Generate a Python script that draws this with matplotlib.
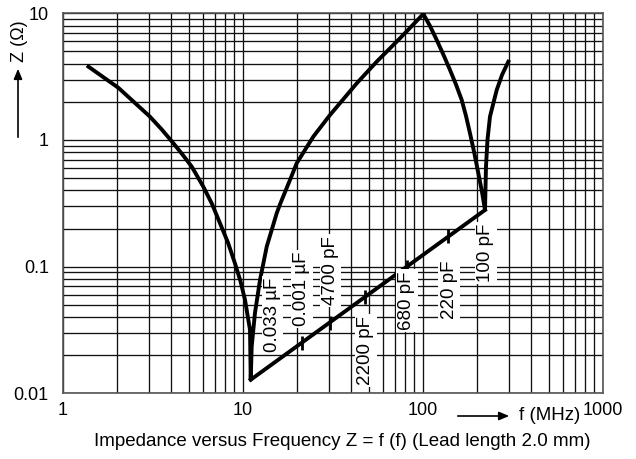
import numpy as np
import matplotlib
matplotlib.use("Agg")
import matplotlib.pyplot as plt
from matplotlib.patches import FancyArrowPatch
from matplotlib.ticker import LogLocator, NullFormatter

plt.rcParams['font.family'] = ['Liberation Sans', 'DejaVu Sans']

# 0.033 uF curve (capacitive branch, dip, inductive branch up to the peak)
f_033 = [1.39, 2.04, 2.52, 3.05, 3.56, 4.12, 4.63, 5.21, 6.04, 6.75, 7.48, 8.28,
         9.06, 9.72, 10.3, 10.98, 11.08,
         11.22, 11.7, 12.48, 13.6, 15.45, 16.11, 18.31, 19.95, 24.67, 30.55,
         43.0, 55.5, 74.8, 100.8]
z_033 = [3.79, 2.58, 1.96, 1.53, 1.205, 0.942, 0.767, 0.616, 0.428, 0.313, 0.220, 0.155,
         0.106, 0.0767, 0.0546, 0.0317, 0.0128,
         0.0234, 0.0431, 0.0785, 0.144, 0.264, 0.31, 0.483, 0.655, 1.062, 1.575,
         2.80, 4.15, 6.35, 9.87]

# 100 pF curve
f_100 = [100.8, 109.8, 119.6, 130.2, 141.8, 153.1, 164.7, 174.0, 183.1, 193.5,
         203.7, 213.5, 221.9, 224.7, 229.0, 236.5, 257.7, 275.8, 299.0]
z_100 = [9.87, 7.94, 6.16, 4.73, 3.57, 2.74, 2.07, 1.547, 1.13, 0.79,
         0.546, 0.389, 0.28, 0.616, 1.0, 1.53, 2.48, 3.26, 4.15]

# locus of the resonance points
res_f = [11.08, 221.9]
res_z = [0.0128, 0.28]

# resonance marks of the other capacitors
mark_caps = ['0.001 µF', '4700 pF', '2200 pF', '680 pF', '220 pF']
mark_f = [21.3, 30.5, 47.8, 81.5, 138.8]
mark_z = [0.025, 0.036, 0.058, 0.10, 0.173]

labels = ['0.033 µF', '0.001 µF', '4700 pF', '2200 pF', '680 pF', '220 pF', '100 pF']

fig = plt.figure(figsize=(6.36, 4.59), dpi=100)
W, H = 636, 459
ax = fig.add_axes([62.7 / W, 1 - 393.3 / H, 540 / W, 380 / H])
ax.set_xscale('log')
ax.set_yscale('log')
ax.set_xlim(1, 1000)
ax.set_ylim(0.01, 10)

ax.xaxis.set_minor_locator(LogLocator(subs=np.arange(2, 10)))
ax.yaxis.set_minor_locator(LogLocator(subs=np.arange(2, 10)))
ax.xaxis.set_minor_formatter(NullFormatter())
ax.yaxis.set_minor_formatter(NullFormatter())
ax.grid(which='both', color='#111111', lw=0.95)
ax.set_axisbelow(True)
for s in ax.spines.values():
    s.set_color('#555555')
    s.set_linewidth(1.2)

ax.set_xticks([1, 10, 100, 1000], ['1', '10', '100', '1000'])
ax.set_yticks([0.01, 0.1, 1, 10], ['0.01', '0.1', '1', '10'])
ax.tick_params(which='both', length=0, labelsize=13)
ax.tick_params(axis='x', pad=6)
ax.tick_params(axis='y', pad=10)

ax.plot(f_033, z_033, color='black', lw=2.8, zorder=3)
ax.plot(f_100, z_100, color='black', lw=2.8, zorder=3)
ax.plot(res_f, res_z, color='black', lw=2.8, zorder=3)
ax.plot(mark_f, mark_z, ls='none', marker='|', ms=10, mew=2, color='black', zorder=3)

# label positions in data coordinates
lab_pos = [(14.7, 0.0416), (21.35, 0.0667), (30.9, 0.0925), (48.4, 0.0216),
           (81.8, 0.054), (140, 0.0655), (224.7, 0.128)]
for txt, (x, y) in zip(labels, lab_pos):
    ax.text(x, y, txt, rotation=90, ha='center', va='center', fontsize=13.5,
            bbox=dict(facecolor='white', edgecolor='none', pad=1.5), zorder=4)

# axis titles with arrows
fig.text(19 / W, 1 - 41 / H, 'Z (Ω)', rotation=90, ha='center', va='center', fontsize=13)
fig.patches.append(FancyArrowPatch(
    (18 / W, 1 - 140 / H), (18 / W, 1 - 66 / H), transform=fig.transFigure,
    arrowstyle='-|>,head_length=6,head_width=2.5', lw=1.2, color='black'))
fig.text(550 / W, 1 - 416 / H, 'f (MHz)', ha='center', va='center', fontsize=13.5)
fig.patches.append(FancyArrowPatch(
    (455 / W, 1 - 416 / H), (512 / W, 1 - 416 / H), transform=fig.transFigure,
    arrowstyle='-|>,head_length=6,head_width=2.5', lw=1.2, color='black'))

fig.text(342 / W, 1 - 441 / H, 'Impedance versus Frequency Z = f (f) (Lead length 2.0 mm)',
         ha='center', va='center', fontsize=13.5)

fig.savefig('out.png', dpi=100)
